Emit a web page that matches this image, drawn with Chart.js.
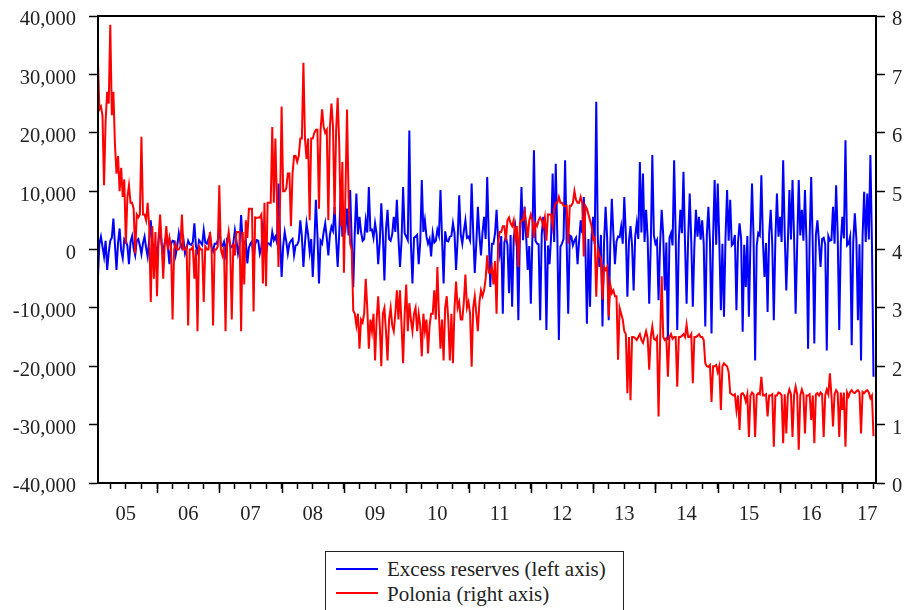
<!DOCTYPE html>
<html>
<head>
<meta charset="utf-8">
<script src="https://cdn.jsdelivr.net/npm/chart.js@4.4.1/dist/chart.umd.min.js"></script>
<style>
  body { margin: 0; background: #fff; }
  #wrap { position: relative; width: 909px; height: 610px; }
  #legend {
    position: absolute; left: 325px; top: 551px; width: 297px; height: 70px;
    border: 1px solid #222; background: #fff;
    font-family: "Liberation Serif", "Times New Roman", serif; font-size: 21px; color: #222;
  }
  #legend .swatch { position: absolute; left: 10px; width: 42px; height: 2px; }
  #legend .label { position: absolute; left: 61px; line-height: 20px; white-space: nowrap; }
</style>
</head>
<body>
<div id="wrap">
  <canvas id="chart" width="909" height="610"></canvas>
  <div id="legend"></div>
</div>
<script>
// daily series every 0.025 year, first sample at 2005.05
const sampleStart = 2005.05;
const sampleStep = 0.025;

// Polonia overnight rate, % (right axis)
const polonia = [
  7.3, 6.4, 6.45, 6.3, 5.1, 6.2, 6.7, 6.5, 7.85, 6.3, 6.7, 5.8, 5.3, 5.6, 5.0, 5.4, 4.9, 5.2, 4.1, 4.9,
  5.1, 4.8, 4.8, 4.7, 3.93, 4.6, 4.55, 4.6, 5.93, 4.6, 4.6, 4.5, 4.8, 4.4, 3.1, 4.4, 3.5, 4.3, 3.2, 4.2,
  4.6, 4.1, 3.5, 4.1, 4.4, 4.0, 4.2, 4.05, 2.8, 4.0, 4.1, 4.0, 4.0, 4.05, 4.6, 4.0, 4.0, 4.05, 2.7, 4.0,
  4.0, 4.05, 3.5, 4.0, 2.6, 4.05, 4.0, 4.0, 3.1, 4.05, 4.0, 4.0, 4.3, 4.05, 2.7, 4.0, 4.0, 4.05, 5.1, 4.0,
  3.9, 4.05, 2.6, 4.1, 4.3, 4.05, 2.8, 4.1, 3.9, 4.3, 4.3, 4.3, 2.6, 4.3, 3.4, 4.5, 4.2, 4.7, 4.7, 4.7,
  2.94, 4.55, 4.54, 4.55, 4.55, 4.6, 3.42, 4.8, 3.37, 4.8, 4.8, 4.8, 6.1, 4.8, 5.9, 4.8, 3.7, 4.8, 6.45, 5.0,
  5.0, 5.05, 5.3, 5.3, 4.4, 5.3, 5.6, 5.6, 5.5, 5.6, 5.9, 5.9, 7.2, 5.9, 5.55, 5.9, 4.5, 5.9, 5.9, 6.0,
  6.05, 6.05, 4.7, 6.05, 6.4, 6.1, 6.0, 6.05, 4.5, 6.1, 6.5, 6.1, 4.6, 6.05, 6.6, 5.8, 4.4, 5.5, 3.6, 5.0,
  6.4, 4.9, 4.1, 4.0, 2.95, 2.9, 2.7, 2.9, 2.3, 2.8, 2.75, 2.9, 3.5, 3.0, 2.3, 2.8, 2.6, 2.9, 2.1, 2.8,
  3.2, 2.7, 2.0, 2.9, 3.0, 2.6, 2.1, 2.8, 3.0, 2.7, 2.6, 2.9, 3.3, 2.8, 3.3, 2.7, 2.05, 2.9, 3.4, 2.6,
  3.08, 2.8, 2.6, 2.9, 3.0, 2.6, 2.9, 2.7, 2.17, 2.9, 2.6, 2.8, 2.22, 2.7, 2.9, 2.9, 3.3, 2.8, 3.7, 2.9,
  2.3, 2.8, 2.1, 3.0, 3.2, 2.8, 2.1, 2.9, 2.05, 3.0, 3.45, 3.0, 3.1, 2.8, 2.8, 3.1, 3.57, 3.0, 3.1, 2.9,
  1.99, 3.0, 3.2, 2.9, 2.6, 3.1, 3.3, 3.2, 3.3, 3.5, 3.9, 3.6, 3.6, 3.7, 3.4, 3.8, 2.9, 4.1, 4.3, 4.3,
  4.4, 4.4, 4.15, 4.5, 4.55, 4.45, 4.4, 4.5, 4.2, 4.4, 3.7, 4.45, 4.5, 4.5, 4.65, 4.45, 4.2, 4.5, 4.6, 4.5,
  4.2, 4.45, 4.4, 4.5, 4.55, 4.5, 4.4, 4.55, 4.15, 4.6, 4.6, 4.6, 4.4, 4.7, 4.8, 4.8, 4.9, 4.8, 4.8, 4.75,
  4.74, 4.75, 4.1, 4.75, 4.75, 4.8, 5.0, 4.85, 4.8, 4.8, 4.9, 4.8, 3.88, 4.75, 4.7, 4.6, 4.5, 4.4, 4.17, 4.2,
  3.19, 4.0, 3.9, 3.85, 3.14, 3.7, 3.65, 3.7, 2.85, 3.4, 3.25, 3.3, 3.2, 3.2, 2.11, 3.0, 2.9, 2.8, 2.6, 2.55,
  1.54, 2.5, 1.42, 2.5, 2.5, 2.48, 2.45, 2.5, 2.55, 2.45, 2.4, 2.5, 2.6, 2.48, 1.94, 2.5, 2.68, 2.47, 2.45, 2.5,
  1.14, 2.45, 3.54, 2.5, 2.45, 2.48, 1.82, 2.5, 2.55, 2.47, 2.5, 2.5, 1.65, 2.5, 2.5, 2.52, 2.55, 2.5, 2.71, 2.5,
  2.5, 2.55, 1.71, 2.5, 2.5, 2.52, 2.55, 2.5, 2.5, 2.45, 2.05, 2.0, 1.99, 2.02, 1.39, 2.0, 2.0, 2.02, 1.9, 2.0,
  1.25, 2.0, 2.05, 2.02, 2.0, 1.9, 1.54, 1.52, 1.5, 1.52, 1.25, 1.5, 0.91, 1.52, 1.54, 1.5, 1.4, 1.52, 0.79, 1.5,
  1.55, 1.52, 0.79, 1.5, 1.54, 1.52, 1.82, 1.5, 1.5, 1.52, 1.14, 1.5, 1.5, 1.52, 0.62, 1.5, 1.5, 1.55, 1.54, 1.5,
  0.68, 1.52, 0.85, 1.5, 1.6, 1.52, 0.79, 1.5, 1.65, 1.52, 0.57, 1.5, 1.6, 1.52, 0.85, 1.5, 1.5, 1.52, 1.08, 1.5,
  0.68, 1.52, 1.54, 1.5, 1.55, 1.52, 0.79, 1.5, 1.6, 1.52, 1.88, 1.5, 0.97, 1.52, 1.59, 1.55, 0.79, 1.55, 1.25, 1.55,
  0.62, 1.55, 1.48, 1.56, 1.59, 1.55, 1.54, 1.57, 1.59, 1.55, 0.85, 1.56, 1.54, 1.57, 1.59, 1.55, 1.45, 1.5, 0.8
];

// excess reserves, PLN mn (left axis)
const excessReserves = [
  -5300, 1000, 2200, 500, -1200, 1500, -3500, -500, 1500, 2000, 5300, 800, -3500, 1200, 3600, -200, -1500, 1800, 1500, 600,
  -2500, 1300, 2300, 200, -1000, 1500, 1800, 700, -800, 1100, 2200, 300, -1200, 1600, 5000, 900, 600, 400, -1000, 1500,
  3900, 800, -300, 1200, 2200, 300, -2500, 1000, 1500, 1400, -900, 600, 2800, 1100, 300, 1700, -700, 200, 1500, 900,
  800, 1300, 4500, 500, -400, 1600, 1200, 800, 3300, 1200, 1000, 1800, 2500, 400, -300, 1000, 1000, 1500, 3900, 700,
  600, 1300, -700, 1900, 2200, 600, 400, 1100, 3300, 1500, -700, 800, 5900, 1200, 1000, 1600, -2400, 300, 1000, 1400,
  -1800, 900, 1600, 1500, -700, 400, 3900, 1800, -800, 1100, 1000, 700, 3000, 1600, 2200, 1200, 11300, 2000, -4700, 600,
  3000, 1400, -700, 1000, 1500, 1800, -1000, 700, 800, 1500, 5000, 2200, -3000, 1200, 4500, 2600, -400, 1800, -4700, 900,
  8500, 2400, -5800, 1500, 1000, 3000, 4500, 2000, -1000, 2500, 3900, 3200, 7300, 1800, -3000, 2800, 10200, 2200, 4500, 3500,
  7000, 2400, 10200, 1500, -6400, 3200, 9600, 2600, 5600, 3000, 1500, 1800, 5000, 2900, 10700, 3300, 3400, 2000, 4500, 2700,
  -2500, 1200, 7900, 2500, -5300, 3400, 6800, 1800, 1500, 2600, 5600, 3000, 8500, 2000, -3000, 1500, 10700, 2800, 2200, 1600,
  20400, 1000, -5800, 2000, 2200, 2500, -2500, 1200, 11900, 3000, 5000, 2200, 1000, 1800, -1200, 2800, 1200, 1500, 3400, 2400,
  10200, 1900, -5800, 3100, 1500, 1400, 2200, 2300, 4500, 2800, -3500, 1700, 9300, 2600, 1000, 3200, 5000, 2000, 2200, 1500,
  11300, 2900, -4000, 1100, 7300, 2500, -1000, 3000, 5600, 1800, 12400, 2200, -6400, 1000, 1000, 2700, 6800, 1500, -700, 2300,
  -11000, 1200, 2200, 800, -7500, 2500, -9800, 1900, 3900, 1000, -12100, 2800, 10700, 1600, 7300, 2200, -3500, 600, -9300, 2000,
  17000, 1500, 1000, 900, -12100, 2600, 5600, 1800, -13800, 700, -2500, 2100, 13000, 1300, 14700, 2500, -15500, 500, 1000, 1800,
  15300, 1200, -11000, 2400, 2200, 700, 1500, 2000, -2500, 1500, 5000, 2800, 9000, 1000, -12700, 1800, -9800, 2300, 5600, 900,
  25300, 1600, -3000, 2500, -13200, 1100, 7300, 2000, -12100, 800, 8700, 2700, -2500, 1400, 2200, 2100, 3900, 1000, 9000, 2600,
  -8100, 1500, 4000, 700, -7000, 2200, 4500, 1800, 15000, 2900, 13000, 1300, 6800, 2000, -9300, 800, 16200, 2400, 1000, 1600,
  -8700, 1000, 6800, 2500, -7000, 1200, -15500, 2000, 2800, 700, 15300, 2300, -13800, 1500, 6800, 2800, 13300, 900, -9300, 1900,
  9600, 1400, -9800, 600, 6800, 2200, 5600, 1700, 5000, 1000, -13200, 2600, 7300, 1300, -14400, 2000, 11900, 800, 11300, 1500,
  -10400, 1000, -11500, 2200, 10200, 1500, 8500, 700, 1000, 2500, -10400, 1200, 4500, 1900, -14100, 800, -6400, 2300, -11500, 1400,
  11300, 2000, -19000, 600, 2800, 2400, 12700, 1600, -4700, 1100, -10700, 2700, 6800, 900, -12100, 1800, 9600, 2200, 5600, 1300,
  15300, 2600, -7000, 1000, 10200, 1700, 11900, 2100, -11000, 800, 11900, 2400, 6800, 1500, 10200, 1100, -17000, 2000, 12400, 700,
  -16100, 2500, 5000, 1300, -3000, 1800, 2000, 900, -17300, 2300, 1500, 1600, 7300, 1000, 11000, 2600, -13800, 1200, 5600, 1900,
  18700, 700, 1000, 2200, -16400, 1400, 6200, 1800, -12100, 900, -19000, 2400, 9900, 1300, 9600, 1700, 16200, 1000, -21800
];

const yearLabels = ['05', '06', '07', '08', '09', '10', '11', '12', '13', '14', '15', '16', '17'];
const firstYear = 2005;
const lastYear = 2017;

const seriesNames = ['Excess reserves (left axis)', 'Polonia (right axis)'];
const seriesColors = ['#0000ff', '#ff0000'];

const xMin = 2005.053;
const xMax = 2017.54;
const lastLabelAt = 2017.40;   // last year is only half shown, its label sits left of centre

function toPoints(values) {
  return values.map((v, i) => ({ x: sampleStart + i * sampleStep, y: v }));
}

// keep the plot box fixed: y labels may overhang the top and bottom edges
function fixVertical(width) {
  return (scale) => {
    scale.width = width;
    scale.paddingTop = 0;
    scale.paddingBottom = 0;
  };
}

Chart.defaults.font.family = '"Liberation Serif", "Times New Roman", serif';
Chart.defaults.font.size = 20.5;
Chart.defaults.color = '#222';

// box round the plot and the long year ticks
const framePlugin = {
  id: 'frame',
  afterDraw(chart) {
    const { ctx, chartArea } = chart;
    const xs = chart.scales.x;
    ctx.save();
    ctx.strokeStyle = '#000';
    ctx.lineWidth = 2;
    ctx.strokeRect(chartArea.left, chartArea.top, chartArea.right - chartArea.left, chartArea.bottom - chartArea.top);
    ctx.lineWidth = 1.5;
    ctx.beginPath();
    for (let y = firstYear; y <= lastYear; y++) {
      if (y < xMin || y > xMax) continue;
      const px = Math.round(xs.getPixelForValue(y)) + 0.5;
      ctx.moveTo(px, chartArea.bottom);
      ctx.lineTo(px, chartArea.bottom + 10);
    }
    ctx.stroke();
    ctx.restore();
  }
};

const chart = new Chart(document.getElementById('chart'), {
  type: 'line',
  data: {
    datasets: [
      {
        label: seriesNames[1],
        data: toPoints(polonia),
        borderColor: seriesColors[1],
        borderWidth: 2,
        pointRadius: 0,
        tension: 0,
        yAxisID: 'yRight',
        order: 0
      },
      {
        label: seriesNames[0],
        data: toPoints(excessReserves),
        borderColor: seriesColors[0],
        borderWidth: 2,
        pointRadius: 0,
        tension: 0,
        yAxisID: 'yLeft',
        order: 1
      }
    ]
  },
  options: {
    responsive: false,
    animation: false,
    layout: { padding: { top: 16, left: 0, right: 0, bottom: 0 } },
    plugins: {
      legend: { display: false },
      tooltip: { enabled: false }
    },
    scales: {
      x: {
        type: 'linear',
        min: xMin,
        max: xMax,
        afterBuildTicks(scale) {
          const ticks = [];
          for (let y = firstYear; y <= lastYear; y++) {
            for (let q = 0; q < 4; q++) {
              const v = y + q / 4;
              if (v >= xMin && v <= xMax) ticks.push({ value: v });
            }
          }
          ticks.push({ value: lastLabelAt });
          ticks.sort((a, b) => a.value - b.value);
          scale.ticks = ticks;
        },
        afterFit(scale) {
          scale.height = 127;
          scale.paddingLeft = 0;
          scale.paddingRight = 0;
        },
        ticks: {
          autoSkip: false,
          maxRotation: 0,
          minRotation: 0,
          padding: 13,
          callback(value) {
            if (Math.abs(value - lastLabelAt) < 1e-6) return yearLabels[lastYear - firstYear];
            const frac = value - Math.floor(value);
            if (value < lastYear && Math.abs(frac - 0.5) < 1e-6) return yearLabels[Math.floor(value) - firstYear];
            return '';
          }
        },
        grid: {
          drawOnChartArea: false,
          tickLength: 6,
          tickWidth: 1.5,
          tickColor: (c) => (c.tick && Math.abs(c.tick.value - lastLabelAt) < 1e-6) ? 'rgba(0,0,0,0)' : '#000'
        },
        border: { display: true, color: '#000', width: 2 }
      },
      yLeft: {
        type: 'linear',
        position: 'left',
        min: -40000,
        max: 40000,
        afterFit: fixVertical(98),
        ticks: {
          stepSize: 10000,
          padding: 13,
          labelOffset: 4,
          callback: (v) => v.toLocaleString('en-US')
        },
        grid: { drawOnChartArea: false, tickLength: 9, tickWidth: 1.5, tickColor: '#000' },
        border: { display: true, color: '#000', width: 2 }
      },
      yRight: {
        type: 'linear',
        position: 'right',
        min: 0,
        max: 8,
        afterFit: fixVertical(33),
        ticks: { stepSize: 1, padding: 7, labelOffset: 4 },
        grid: { drawOnChartArea: false, tickLength: 9, tickWidth: 1.5, tickColor: '#000' },
        border: { display: true, color: '#000', width: 2 }
      }
    }
  },
  plugins: [framePlugin]
});

// legend box under the plot
const legend = document.getElementById('legend');
seriesNames.forEach((name, i) => {
  const sw = document.createElement('div');
  sw.className = 'swatch';
  sw.style.top = (16 + i * 24) + 'px';
  sw.style.background = seriesColors[i];
  legend.appendChild(sw);
  const lb = document.createElement('div');
  lb.className = 'label';
  lb.style.top = (7 + i * 25) + 'px';
  lb.textContent = name;
  legend.appendChild(lb);
});
</script>
</body>
</html>
